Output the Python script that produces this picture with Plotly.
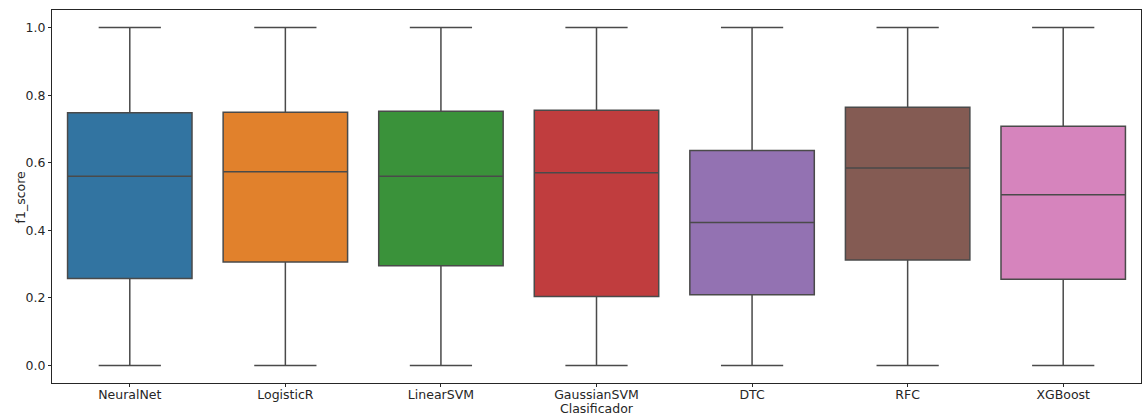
import plotly.graph_objects as go

categories = ["NeuralNet", "LogisticR", "LinearSVM", "GaussianSVM", "DTC", "RFC", "XGBoost"]
q1 = [0.257, 0.306, 0.295, 0.204, 0.209, 0.312, 0.255]
median = [0.560, 0.573, 0.560, 0.570, 0.423, 0.584, 0.505]
q3 = [0.748, 0.749, 0.752, 0.755, 0.636, 0.764, 0.708]
lower = [0.0, 0.0, 0.0, 0.0, 0.0, 0.0, 0.0]
upper = [1.0, 1.0, 1.0, 1.0, 1.0, 1.0, 1.0]
colors = ["#3274a1", "#e1812c", "#3a923a", "#c03d3e", "#9372b2", "#845b53", "#d684bd"]

fig = go.Figure()
for i, c in enumerate(categories):
    fig.add_trace(go.Box(
        x=[c], q1=[q1[i]], median=[median[i]], q3=[q3[i]],
        lowerfence=[lower[i]], upperfence=[upper[i]],
        fillcolor=colors[i], line=dict(color="#4a4a4a", width=1.5),
        width=0.8, whiskerwidth=0.5, boxpoints=False, showlegend=False,
        hoverinfo="skip",
    ))

axis_font = dict(family="DejaVu Sans", size=12.5, color="#262626")
fig.update_layout(
    width=1143, height=415,
    margin=dict(l=52, r=2, t=10, b=32),
    plot_bgcolor="white", paper_bgcolor="white",
    boxmode="overlay",
    font=dict(family="DejaVu Sans", size=12.5, color="#262626"),
    xaxis=dict(
        type="category", range=[-0.5, 6.5], showgrid=False, zeroline=False,
        showline=True, linecolor="#262626", linewidth=1, mirror=True,
        ticks="outside", ticklen=3, tickcolor="#262626", tickfont=axis_font,
        ticklabelstandoff=-3,
        automargin=False,
    ),
    yaxis=dict(
        range=[-0.052, 1.052], showgrid=False, zeroline=False,
        showline=True, linecolor="#262626", linewidth=1, mirror=True,
        ticks="outside", ticklen=3, tickcolor="#262626", tickfont=axis_font,
        automargin=False,
        tickvals=[0.0, 0.2, 0.4, 0.6, 0.8, 1.0],
        ticktext=["0.0", "0.2", "0.4", "0.6", "0.8", "1.0"],
    ),
    annotations=[
        dict(text="Clasificador", xref="paper", yref="paper", x=0.5, y=-0.068,
             xanchor="center", yanchor="middle", showarrow=False, font=axis_font),
        dict(text="f1_score", xref="paper", yref="paper", x=-0.0285, y=0.5,
             xanchor="center", yanchor="middle", textangle=-90, showarrow=False,
             font=axis_font),
    ],
)

fig.write_html("out.html", config={"displayModeBar": False},
               post_script="document.body.style.margin='0';")
